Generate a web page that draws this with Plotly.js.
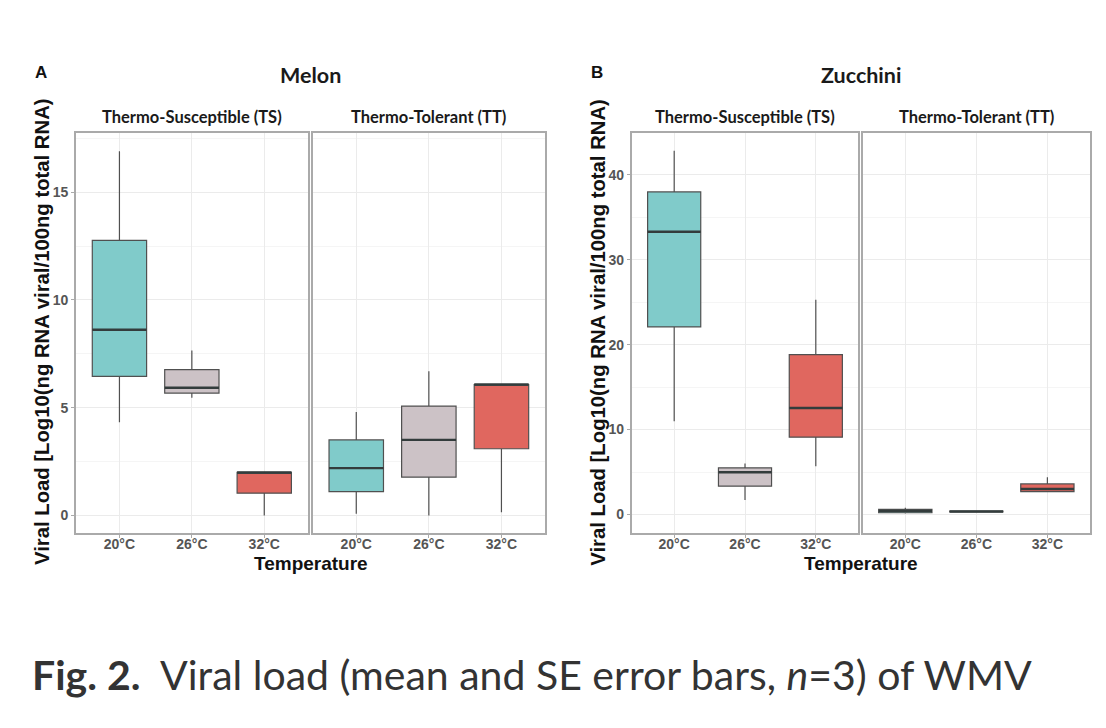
<!DOCTYPE html>
<html>
<head>
<meta charset="utf-8">
<script src="https://cdn.plot.ly/plotly-3.0.1.min.js"></script>
<style>
  html, body { margin: 0; padding: 0; background: #ffffff; }
  #chart { width: 1106px; height: 728px; }
</style>
</head>
<body>
<div id="chart"></div>
<script>
// Temperature categories shared by every facet
const temps = ['20°C', '26°C', '32°C'];
const fills = ['#80CBCA', '#CCC2C6', '#E0675F'];

// Melon, thermo-susceptible line (box statistics per temperature)
const melonTS_lower = [4.33, 5.47, 0.00];
const melonTS_q1    = [6.46, 5.68, 1.04];
const melonTS_med   = [8.62, 5.93, 2.00];
const melonTS_q3    = [12.77, 6.77, 2.00];
const melonTS_upper = [16.90, 7.66, 2.00];

// Melon, thermo-tolerant line
const melonTT_lower = [0.08, 0.00, 0.15];
const melonTT_q1    = [1.11, 1.78, 3.10];
const melonTT_med   = [2.20, 3.51, 6.08];
const melonTT_q3    = [3.51, 5.08, 6.08];
const melonTT_upper = [4.80, 6.69, 6.08];

// Zucchini, thermo-susceptible line
const zucTS_lower = [10.98, 1.69, 5.69];
const zucTS_q1    = [22.10, 3.33, 9.10];
const zucTS_med   = [33.30, 4.98, 12.55];
const zucTS_q3    = [38.00, 5.49, 18.82];
const zucTS_upper = [42.86, 6.00, 25.30];

// Zucchini, thermo-tolerant line
const zucTT_lower = [0.12, 0.30, 2.67];
const zucTT_q1    = [0.20, 0.30, 2.70];
const zucTT_med   = [0.40, 0.35, 3.00];
const zucTT_q3    = [0.60, 0.40, 3.60];
const zucTT_upper = [0.78, 0.40, 4.39];

const stripLabels = ['Thermo-Susceptible (TS)', 'Thermo-Tolerant (TT)'];
const cropTitles = ['Melon', 'Zucchini'];
const panelLetters = ['A', 'B'];
const yTitle = 'Viral Load [Log10(ng RNA viral/100ng total RNA)';
const xTitle = 'Temperature';

// ---- page geometry (pixels) ----
const W = 1106, H = 728;
const px = v => v / W;
const py = v => 1 - v / H;
const panelTop = 132.5, panelBottom = 532.8;
const facetsPx = [[76, 307.7], [312.7, 545], [631.7, 858.3], [862.7, 1090]];

const BOX_W = 0.75;
const facets = [
  {lower: melonTS_lower, q1: melonTS_q1, med: melonTS_med, q3: melonTS_q3, upper: melonTS_upper},
  {lower: melonTT_lower, q1: melonTT_q1, med: melonTT_med, q3: melonTT_q3, upper: melonTT_upper},
  {lower: zucTS_lower, q1: zucTS_q1, med: zucTS_med, q3: zucTS_q3, upper: zucTS_upper},
  {lower: zucTT_lower, q1: zucTT_q1, med: zucTT_med, q3: zucTT_q3, upper: zucTT_upper}
];

const traces = [];
facets.forEach((f, k) => {
  const xa = 'x' + (k === 0 ? '' : k + 1);
  const ya = 'y' + (k === 0 ? '' : k + 1);
  temps.forEach((t, i) => {
    traces.push({
      type: 'box', xaxis: xa, yaxis: ya,
      x: [i], q1: [f.q1[i]], median: [f.med[i]], q3: [f.q3[i]],
      lowerfence: [f.lower[i]], upperfence: [f.upper[i]],
      width: BOX_W, whiskerwidth: 0, boxpoints: false,
      fillcolor: fills[i],
      line: {color: '#505050', width: 1.2},
      showlegend: false, hoverinfo: 'skip'
    });
  });
  // thicker median bars drawn on top of each box
  const mx = [], my = [];
  temps.forEach((t, i) => {
    mx.push(i - BOX_W / 2, i + BOX_W / 2, null);
    my.push(f.med[i], f.med[i], null);
  });
  traces.push({
    type: 'scatter', mode: 'lines', xaxis: xa, yaxis: ya,
    x: mx, y: my, line: {color: '#333c3c', width: 2.4},
    showlegend: false, hoverinfo: 'skip'
  });
});

const tickFont = {family: 'Liberation Sans, Arial, sans-serif', size: 14, color: '#555555', weight: 'bold'};
const border = '#aaaaaa';

function xAxis(k) {
  return {
    domain: [px(facetsPx[k][0]), px(facetsPx[k][1])],
    anchor: 'y' + (k === 0 ? '' : k + 1),
    range: [-0.6, 2.6], tickvals: [0, 1, 2], ticktext: temps,
    showgrid: true, gridcolor: '#ebebeb', gridwidth: 1, zeroline: false,
    showline: true, linecolor: border, linewidth: 1.8, mirror: true,
    ticks: 'outside', ticklen: 3, tickcolor: border, tickwidth: 1,
    ticklabelstandoff: -5,
    tickfont: tickFont, fixedrange: true
  };
}
function yAxis(k, range, dtick, showLabels) {
  return {
    domain: [py(panelBottom), py(panelTop)],
    anchor: 'x' + (k === 0 ? '' : k + 1),
    range: range, dtick: dtick, tick0: 0,
    showgrid: true, gridcolor: '#ebebeb', gridwidth: 1, zeroline: false,
    minor: {dtick: dtick / 2, tick0: 0, showgrid: true, gridcolor: '#f5f5f5', gridwidth: 1},
    showline: true, linecolor: border, linewidth: 1.8, mirror: true,
    ticks: showLabels ? 'outside' : '', ticklen: 3, tickcolor: border, tickwidth: 1,
    showticklabels: showLabels, tickfont: tickFont, fixedrange: true
  };
}

const rangeA = [-0.80, 17.77];
const rangeB = [-2.16, 45.0];

const annotations = [];
const stripFont = {family: 'Lato, Open Sans, sans-serif', size: 16.5, color: '#1a1a1a', weight: 'bold'};
facetsPx.forEach((f, k) => {
  annotations.push({
    xref: 'paper', yref: 'paper', x: px((f[0] + f[1]) / 2), y: py(117),
    xanchor: 'center', yanchor: 'middle', showarrow: false,
    text: stripLabels[k % 2], font: stripFont
  });
});
[[0, 1], [2, 3]].forEach((pair, p) => {
  const cx = (facetsPx[pair[0]][0] + facetsPx[pair[1]][1]) / 2;
  annotations.push({
    xref: 'paper', yref: 'paper', x: px(cx), y: py(75),
    xanchor: 'center', yanchor: 'middle', showarrow: false,
    text: cropTitles[p], font: {family: 'Lato, Open Sans, sans-serif', size: 21.5, color: '#1a1a1a', weight: 'bold'}
  });
  annotations.push({
    xref: 'paper', yref: 'paper', x: px(facetsPx[pair[0]][0] - 43), y: py(73),
    xanchor: 'left', yanchor: 'middle', showarrow: false,
    text: panelLetters[p], font: {family: 'Liberation Sans, Arial, sans-serif', size: 17, color: '#111111', weight: 'bold'}
  });
  annotations.push({
    xref: 'paper', yref: 'paper', x: px(cx), y: py(563),
    xanchor: 'center', yanchor: 'middle', showarrow: false,
    text: xTitle, font: {family: 'Liberation Sans, Arial, sans-serif', size: 19, color: '#111111', weight: 'bold'}
  });
  annotations.push({
    xref: 'paper', yref: 'paper', x: px(facetsPx[pair[0]][0] - 34), y: py(332),
    xanchor: 'center', yanchor: 'middle', showarrow: false, textangle: -90,
    text: yTitle, font: {family: 'Liberation Sans, Arial, sans-serif', size: 20.3, color: '#111111', weight: 'bold'}
  });
});
// figure caption
annotations.push({
  xref: 'paper', yref: 'paper', x: px(30), y: py(674),
  xanchor: 'left', yanchor: 'middle', showarrow: false,
  text: '<b>Fig. 2.</b>  Viral load (mean and SE error bars, <i>n</i>=3) of WMV',
  font: {family: 'Lato, Open Sans, sans-serif', size: 41, color: '#333333'}
});

const layout = {
  width: W, height: H,
  margin: {l: 0, r: 0, t: 0, b: 0},
  paper_bgcolor: '#ffffff', plot_bgcolor: '#ffffff',
  showlegend: false, hovermode: false,
  xaxis: xAxis(0), xaxis2: xAxis(1), xaxis3: xAxis(2), xaxis4: xAxis(3),
  yaxis: yAxis(0, rangeA, 5, true),
  yaxis2: yAxis(1, rangeA, 5, false),
  yaxis3: yAxis(2, rangeB, 10, true),
  yaxis4: yAxis(3, rangeB, 10, false),
  annotations: annotations
};

Plotly.newPlot('chart', traces, layout, {staticPlot: true, displayModeBar: false});
</script>
</body>
</html>
